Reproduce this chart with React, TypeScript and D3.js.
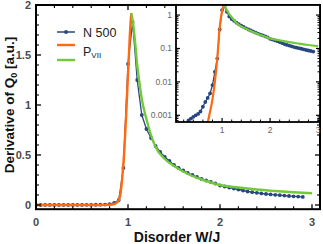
import React from "react";
import * as d3 from "d3";

const blueX = [0,0.05,0.1,0.15,0.2,0.25,0.3,0.35,0.4,0.45,0.5,0.55,0.6,0.65,0.7,0.75,0.8,0.85,0.9,0.95,1.0,1.05,1.1,1.15,1.2,1.25,1.3,1.35,1.4,1.45,1.5,1.55,1.6,1.65,1.7,1.75,1.8,1.85,1.9,1.95,2.0,2.05,2.1,2.15,2.2,2.25,2.3,2.35,2.4,2.45,2.5,2.55,2.6,2.65,2.7,2.75,2.8,2.85,2.9];
const blueY = [0.0002,0.0002,0.0003,0.0003,0.0004,0.0005,0.0007,0.0008,0.0009,0.001,0.0011,0.0013,0.0018,0.0025,0.0033,0.0045,0.008,0.02,0.05,0.37,1.41,1.83,1.25,0.9,0.76,0.67,0.59,0.53,0.48,0.44,0.4,0.37,0.345,0.32,0.3,0.28,0.26,0.245,0.23,0.215,0.195,0.185,0.175,0.165,0.155,0.145,0.135,0.128,0.122,0.116,0.11,0.106,0.102,0.098,0.094,0.09,0.087,0.084,0.081];

const orangeX = [0,0.2,0.4,0.6,0.65,0.7,0.75,0.8,0.85,0.88,0.9,0.92,0.94,0.96,0.98,1.0,1.02,1.035];
const orangeY = [1e-7,5e-7,5e-6,0.00015,0.0003,0.0006,0.0013,0.003,0.01,0.025,0.05,0.12,0.3,0.55,0.9,1.3,1.7,1.92];

const greenX = [1.035,1.05,1.075,1.1,1.125,1.15,1.2,1.25,1.3,1.4,1.5,1.6,1.7,1.8,1.9,2.0,2.2,2.4,2.6,2.8,3.0];
const greenY = [1.92,1.85,1.65,1.4,1.22,1.06,0.86,0.7,0.58,0.46,0.39,0.335,0.29,0.255,0.225,0.2,0.175,0.155,0.14,0.127,0.117];

const mainXTicks = [0,1,2,3];
const mainYTicks = [0,0.5,1,1.5,2];
const insetXTicks = [1,2,3];
const insetYTicks = [1,0.1,0.01,0.001];
const insetYLabels = ["1","0.1","0.01","0.001"];

const BLUE = "#284780";
const ORANGE = "#ff6a10";
const GREEN = "#74c93a";
const FONT = "Liberation Sans, Arial, sans-serif";

export default function App() {
  const L = 36, R = 320, T = 5, B = 209.2;
  const x = d3.scaleLinear().domain([0, 3.087]).range([L, R]);
  const y = d3.scaleLinear().domain([-0.042, 2]).range([B, T]);

  const iL = 176, iR = 320, iT = 5, iB = 122;
  const xi = d3.scaleLinear().domain([0.04, 3.04]).range([iL, iR]);
  const yi = d3.scaleLog().domain([0.00063, 2]).range([iB, iT]);

  const blue = blueX.map((v, i) => [v, blueY[i]] as [number, number]);
  const orange = orangeX.map((v, i) => [v, orangeY[i]] as [number, number]);
  const green = greenX.map((v, i) => [v, greenY[i]] as [number, number]);

  const lineMain = (curve: any) => d3.line<[number, number]>().x(d => x(d[0])).y(d => y(d[1])).curve(curve);
  const lineInset = (curve: any) => d3.line<[number, number]>().x(d => xi(d[0])).y(d => yi(d[1])).curve(curve);

  const minorX = d3.range(0, 3.09, 0.2).filter(v => Math.abs(v - Math.round(v)) > 0.01);
  const minorY = d3.range(-0.0, 2.001, 0.1).filter(v => Math.abs(v * 2 - Math.round(v * 2)) > 0.01);
  const minorXi = d3.range(0.2, 3.04, 0.2).filter(v => Math.abs(v - Math.round(v)) > 0.01);
  const minorYi: number[] = [];
  [0.0001, 0.001, 0.01, 0.1, 1].forEach(d => {
    for (let k = 2; k <= 9; k++) {
      const v = d * k;
      if (v >= 0.00063 && v <= 2) minorYi.push(v);
    }
  });

  const insetBlue = blue.filter(d => d[1] > 0.0004);

  return (
    <svg width={323} height={244} style={{ display: "block", position: "absolute", left: 0, top: 0 }} fontFamily={FONT}>
      <defs>
        <clipPath id="mainClip"><rect x={L} y={T} width={R - L} height={B - T} /></clipPath>
        <clipPath id="insetClip"><rect x={iL} y={iT} width={iR - iL} height={iB - iT} /></clipPath>
      </defs>
      <rect width={323} height={244} fill="#fff" />
      <g clipPath="url(#mainClip)">
        <path d={lineMain(d3.curveLinear)(blue) || ""} fill="none" stroke={BLUE} strokeWidth={1.3} />
        {blue.map((d, i) => (
          <circle key={i} cx={x(d[0])} cy={y(d[1])} r={1.9} fill={BLUE} />
        ))}
        <path d={lineMain(d3.curveMonotoneX)(orange) || ""} fill="none" stroke={ORANGE} strokeWidth={2.4} />
        <path d={lineMain(d3.curveMonotoneX)(green) || ""} fill="none" stroke={GREEN} strokeWidth={2.4} />
      </g>

      {/* main ticks */}
      <g stroke="#000">
        {mainXTicks.map(t => (
          <g key={"mx" + t}>
            <line x1={x(t)} x2={x(t)} y1={B} y2={B - 5} strokeWidth={1.3} />
            <line x1={x(t)} x2={x(t)} y1={T} y2={T + 5} strokeWidth={1.3} />
          </g>
        ))}
        {minorX.map(t => (
          <g key={"mnx" + t}>
            <line x1={x(t)} x2={x(t)} y1={B} y2={B - 3} strokeWidth={1.1} />
            <line x1={x(t)} x2={x(t)} y1={T} y2={T + 3} strokeWidth={1.1} />
          </g>
        ))}
        {mainYTicks.map(t => (
          <g key={"my" + t}>
            <line x1={L} x2={L + 5} y1={y(t)} y2={y(t)} strokeWidth={1.3} />
            <line x1={R} x2={R - 5} y1={y(t)} y2={y(t)} strokeWidth={1.3} />
          </g>
        ))}
        {minorY.map(t => (
          <g key={"mny" + t}>
            <line x1={L} x2={L + 3} y1={y(t)} y2={y(t)} strokeWidth={1.1} />
            <line x1={R} x2={R - 3} y1={y(t)} y2={y(t)} strokeWidth={1.1} />
          </g>
        ))}
      </g>
      <rect x={L} y={T} width={R - L} height={B - T} fill="none" stroke="#000" strokeWidth={2} />

      {/* main tick labels */}
      {mainXTicks.map(t => (
        <text key={"lx" + t} x={x(t)} y={226} textAnchor="middle" fontSize={11} fontWeight="bold" fill="#4a4a4a">{t}</text>
      ))}
      {mainYTicks.map(t => (
        <text key={"ly" + t} x={31} y={y(t) + 4} textAnchor="end" fontSize={11} fontWeight="bold" fill="#4a4a4a">{t}</text>
      ))}

      {/* axis titles */}
      <text x={177} y={242} textAnchor="middle" fontSize={14} fontWeight="bold" fill="#111">Disorder W/J</text>
      <text transform="translate(14,105) rotate(-90)" textAnchor="middle" fontSize={13.5} fontWeight="bold" fill="#111">
        Derivative of Q<tspan fontSize={9} dy={3}>0</tspan><tspan dy={-3}> [a.u.]</tspan>
      </text>

      {/* legend */}
      <line x1={57} x2={75} y1={32} y2={32} stroke={BLUE} strokeWidth={1.5} />
      <circle cx={66} cy={32} r={1.9} fill={BLUE} />
      <text x={83} y={36.5} fontSize={12.5} fill="#222">N 500</text>
      <line x1={57} x2={75} y1={45} y2={45} stroke={ORANGE} strokeWidth={2.4} />
      <text x={83} y={56} fontSize={12.5} fill="#222">P<tspan fontSize={8} dy={2}>VII</tspan></text>
      <line x1={57} x2={75} y1={60} y2={60} stroke={GREEN} strokeWidth={2.4} />

      {/* inset */}
      <rect x={iL} y={iT} width={iR - iL} height={iB - iT} fill="#fff" />
      <g clipPath="url(#insetClip)">
        <path d={lineInset(d3.curveLinear)(insetBlue) || ""} fill="none" stroke={BLUE} strokeWidth={1.3} />
        {insetBlue.map((d, i) => (
          <circle key={i} cx={xi(d[0])} cy={yi(d[1])} r={1.9} fill={BLUE} />
        ))}
        <path d={lineInset(d3.curveMonotoneX)(orange) || ""} fill="none" stroke={ORANGE} strokeWidth={2.2} />
        <path d={lineInset(d3.curveMonotoneX)(green) || ""} fill="none" stroke={GREEN} strokeWidth={2.2} />
      </g>
      <g stroke="#000">
        {insetXTicks.map(t => (
          <line key={"ix" + t} x1={xi(t)} x2={xi(t)} y1={iB} y2={iB - 4} strokeWidth={1.2} />
        ))}
        {minorXi.map(t => (
          <line key={"imx" + t} x1={xi(t)} x2={xi(t)} y1={iB} y2={iB - 2.5} strokeWidth={1} />
        ))}
        {insetYTicks.map(t => (
          <g key={"iy" + t}>
            <line x1={iL} x2={iL + 4} y1={yi(t)} y2={yi(t)} strokeWidth={1.2} />
            <line x1={iR} x2={iR - 4} y1={yi(t)} y2={yi(t)} strokeWidth={1.2} />
          </g>
        ))}
        {minorYi.map(t => (
          <g key={"imy" + t}>
            <line x1={iL} x2={iL + 2.5} y1={yi(t)} y2={yi(t)} strokeWidth={1} />
            <line x1={iR} x2={iR - 2.5} y1={yi(t)} y2={yi(t)} strokeWidth={1} />
          </g>
        ))}
      </g>
      <rect x={iL} y={iT} width={iR - iL} height={iB - iT} fill="none" stroke="#000" strokeWidth={1.8} />
      {insetXTicks.map(t => (
        <text key={"ilx" + t} x={xi(t)} y={133} textAnchor="middle" fontSize={8.5} fill="#666">{t}</text>
      ))}
      {insetYTicks.map((t, i) => (
        <text key={"ily" + t} x={172} y={yi(t) + 3} textAnchor="end" fontSize={8.5} fill="#666">{insetYLabels[i]}</text>
      ))}
    </svg>
  );
}
